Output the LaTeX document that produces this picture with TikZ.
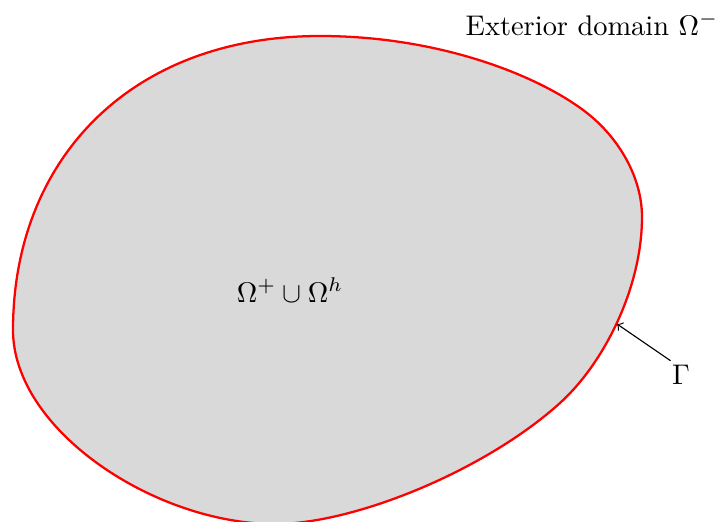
\documentclass[tikz,border=0pt]{standalone}
\begin{document}
\begin{tikzpicture}[x=0.352pt,y=-0.352pt,
  blob/.style={draw=red,line width=0.8pt,fill=black!15},
  lbl/.style={inner sep=0pt},
  pointer/.style={->,>=to,line width=0.4pt}]
\useasboundingbox (0,0) rectangle (721,522);
\path[blob] (13,330) .. controls (13,160) and (130,36) .. (320,36)
  .. controls (440,36) and (539.8,76) .. (587,113)
  .. controls (618.5,137.7) and (642,177) .. (642,217)
  .. controls (642,287) and (604.5,362.7) .. (560,403)
  .. controls (485.8,470.1) and (355,524) .. (275,524)
  .. controls (155,524) and (13,430) .. cycle;
\node[lbl] (ext) at (592,24) {Exterior domain $\Omega^{-}$};
\node[lbl] (omega) at (290,290) {$\Omega^{+}\cup\Omega^{h}$};
\node[lbl] (gamma) at (681,375) {$\Gamma$};
\coordinate (gp) at (617,324);
\draw[pointer] (gamma.north west) ++(-1,-4) -- (gp);
\end{tikzpicture}
\end{document}
